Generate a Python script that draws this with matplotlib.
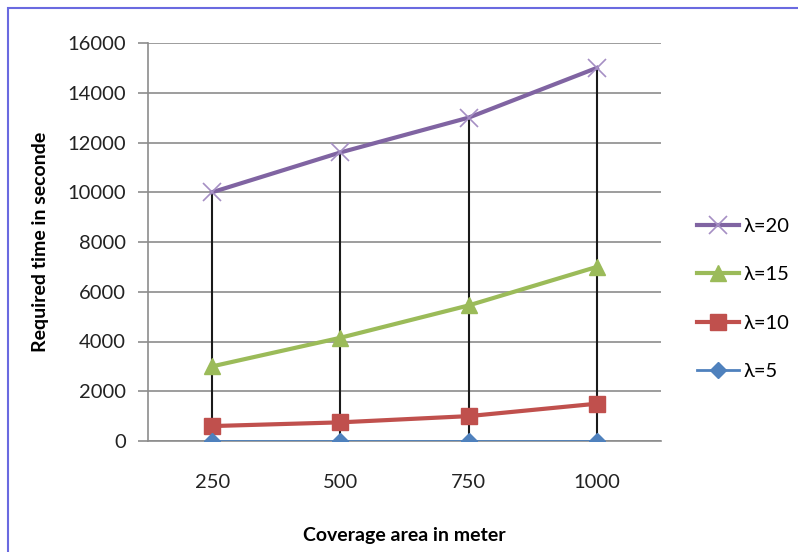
import matplotlib.pyplot as plt
from matplotlib.patches import Rectangle
import numpy as np

plt.rcParams['font.family'] = ['Lato', 'DejaVu Sans']

# coverage area categories
areas = ["250", "500", "750", "1000"]

# required time per lambda
time_l5 = [0, 0, 0, 0]
time_l10 = [600, 750, 1000, 1500]
time_l15 = [3000, 4150, 5450, 7000]
time_l20 = [10000, 11600, 13000, 15000]

labels = ["λ=5", "λ=10", "λ=15", "λ=20"]

fig = plt.figure(figsize=(7.98, 5.52), dpi=100)
ax = fig.add_axes([148 / 798, 1 - 441 / 552, 513 / 798, 398 / 552])

x = np.arange(len(areas))

# drop lines from the highest point down to zero
tops = np.max([time_l5, time_l10, time_l15, time_l20], axis=0)
ax.vlines(x, 0, tops, color="#1a1a1a", lw=1.5, zorder=2)

l5, = ax.plot(x, time_l5, color="#4F81BD", lw=2, marker="D", ms=8,
              mec="#4F81BD", zorder=5)
l10, = ax.plot(x, time_l10, color="#C0504D", lw=3, marker="s", ms=12,
               mec="#C0504D", zorder=4)
l15, = ax.plot(x, time_l15, color="#9BBB59", lw=3, marker="^", ms=12,
               mec="#9BBB59", zorder=4)
l20, = ax.plot(x, time_l20, color="#8064A2", lw=3, marker="x", ms=13,
               mew=1.2, mec="#A58FC4", zorder=4)

ax.set_xlim(-0.5, 3.5)
ax.set_ylim(0, 16000)
ax.set_yticks(np.arange(0, 16001, 2000))
ax.set_xticks(x)
ax.set_xticklabels(areas)

ax.grid(axis="y", color="#8c8c8c", lw=1.2, zorder=1)
ax.set_axisbelow(True)
for s in ["top", "right"]:
    ax.spines[s].set_visible(False)
ax.spines["left"].set_color("#8c8c8c")
ax.spines["left"].set_linewidth(1.2)
ax.spines["bottom"].set_color("#8c8c8c")
ax.spines["bottom"].set_linewidth(1.2)

ax.tick_params(axis="y", length=7, width=1.2, color="#8c8c8c", pad=9,
               labelsize=14.5, labelcolor="#222222")
ax.tick_params(axis="x", length=0, pad=24, labelsize=14.5, labelcolor="#222222")

ax.set_ylabel("Required time in seconde", fontsize=14, fontweight="bold",
              labelpad=13)
fig.text(404 / 798, 1 - 535 / 552, "Coverage area in meter", fontsize=14,
         fontweight="bold", ha="center", va="center")

ax.legend([l20, l15, l10, l5], labels[::-1], loc="center left",
          bbox_to_anchor=(697 / 798, 1 - 299 / 552),
          bbox_transform=fig.transFigure, frameon=False, fontsize=14.5,
          handlelength=2.1, handletextpad=0.2, labelspacing=1.55,
          borderpad=0, borderaxespad=0)

# blue frame around the chart
fig.patches.append(Rectangle((8 / 798, -0.1), 1.2, 1.1 - 8 / 552,
                             transform=fig.transFigure, fill=False,
                             ec="#6A6AE0", lw=1.5))

fig.savefig("out.png", dpi=100)
